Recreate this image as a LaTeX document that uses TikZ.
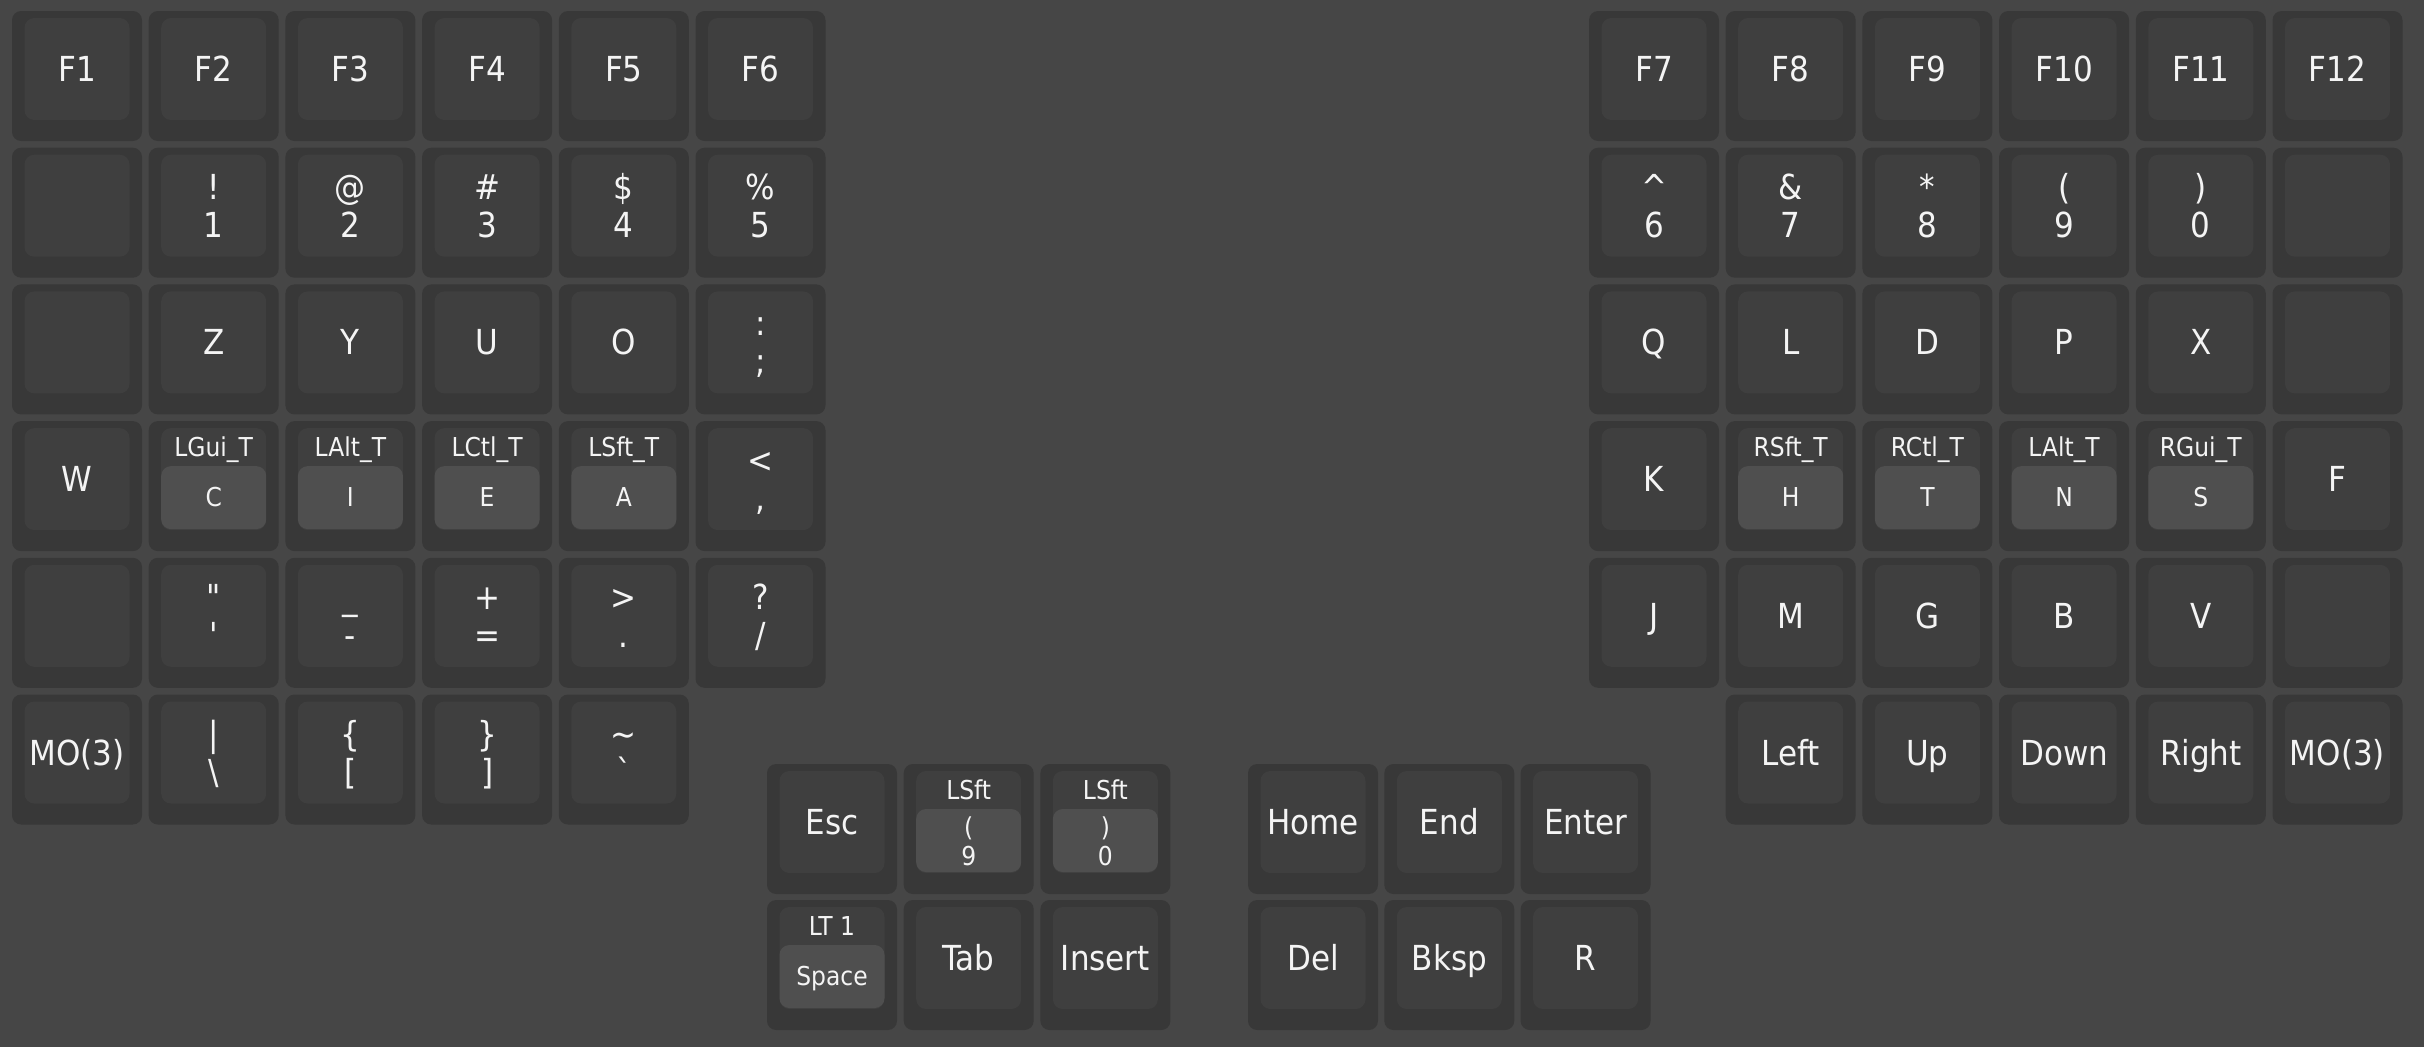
\documentclass[tikz,border=0pt]{standalone}
\usepackage{fontspec}
\setmainfont{DejaVu Sans Condensed}
\definecolor{bgcol}{HTML}{464646}
\definecolor{keyrim}{HTML}{383838}
\definecolor{keytop}{HTML}{3F3F3F}
\definecolor{keyhold}{HTML}{4F4F4F}
\definecolor{keytxt}{HTML}{F4F4F4}
% one key: rim and cap, x y of the top left corner
\newcommand\kbase[2]{\path[keyrimbox] (#1,#2) rectangle ++(130,130);
	\path[keytopbox] (#1+12.5,#2+7) rectangle ++(105,102);}
\newcommand\kone[4]{\kbase{#2}{#3}\node[lbl] (#1) at (#2+65,#3+70.5) {#4};}
\newcommand\ktwo[5]{\kbase{#2}{#3}\node[lbl] (#1a) at (#2+65,#3+51.5) {#4};
	\node[lbl] (#1b) at (#2+65,#3+89.5) {#5};}
\newcommand\khold[5]{\kbase{#2}{#3}\path[holdbox] (#2+12.5,#3+45) rectangle ++(105,63);
	\node[sml] (#1a) at (#2+65,#3+35.5) {#4};
	\node[sml] (#1b) at (#2+65,#3+85.5) {#5};}
\begin{document}
\begin{tikzpicture}[x=0.01cm,y=-0.01cm,
	keyrimbox/.style={fill=keyrim,rounded corners=2.6pt},
	keytopbox/.style={fill=keytop,rounded corners=2.8pt},
	holdbox/.style={fill=keyhold,rounded corners=2.8pt},
	lbl/.style={text=keytxt,inner sep=0,anchor=base,font=\fontsize{9.8}{11}\selectfont},
	sml/.style={lbl,font=\fontsize{7.4}{9}\selectfont}]
\fill[bgcol] (0,0) rectangle (2424,1047);
% left half
\foreach \t [count=\c from 0] in {F1,F2,F3,F4,F5,F6}
	\kone{l0\c}{12+\c*136.7}{11}{\t};
\kbase{12}{147.7}
\foreach \a/\b [count=\c from 1] in {!/1,@/2,\#/3,\$/4,\%/5}
	\ktwo{l1\c}{12+\c*136.7}{147.7}{\a}{\b};
\kbase{12}{284.4}
\foreach \t [count=\c from 1] in {Z,Y,U,O}
	\kone{l2\c}{12+\c*136.7}{284.4}{\t};
\ktwo{l25}{695.5}{284.4}{:}{;}
\kone{l30}{12}{421.1}{W}
\foreach \a/\b [count=\c from 1] in {LGui\_T/C,LAlt\_T/I,LCtl\_T/E,LSft\_T/A}
	\khold{l3\c}{12+\c*136.7}{421.1}{\a}{\b};
\ktwo{l35}{695.5}{421.1}{<}{,}
\kbase{12}{557.8}
\foreach \a/\b [count=\c from 1] in {\textquotedbl/\textquotesingle,\_/-,+/=,>/.,{?}/{/}}
	\ktwo{l4\c}{12+\c*136.7}{557.8}{\a}{\b};
\kone{l50}{12}{694.5}{MO(3)}
\foreach \a/\b [count=\c from 1] in {\textbar/\textbackslash,\{/{[},\}/{]},\textasciitilde/\textasciigrave}
	\ktwo{l5\c}{12+\c*136.7}{694.5}{\a}{\b};
% right half
\foreach \t [count=\c from 0] in {F7,F8,F9,F10,F11,F12}
	\kone{r0\c}{1589+\c*136.7}{11}{\t};
\foreach \a/\b [count=\c from 0] in {\textasciicircum/6,\&/7,*/8,{(}/9,{)}/0}
	\ktwo{r1\c}{1589+\c*136.7}{147.7}{\a}{\b};
\kbase{2272.5}{147.7}
\foreach \t [count=\c from 0] in {Q,L,D,P,X}
	\kone{r2\c}{1589+\c*136.7}{284.4}{\t};
\kbase{2272.5}{284.4}
\kone{r30}{1589}{421.1}{K}
\foreach \a/\b [count=\c from 1] in {RSft\_T/H,RCtl\_T/T,LAlt\_T/N,RGui\_T/S}
	\khold{r3\c}{1589+\c*136.7}{421.1}{\a}{\b};
\kone{r35}{2272.5}{421.1}{F}
\foreach \t [count=\c from 0] in {J,M,G,B,V}
	\kone{r4\c}{1589+\c*136.7}{557.8}{\t};
\kbase{2272.5}{557.8}
\foreach \t [count=\c from 1] in {Left,Up,Down,Right,MO(3)}
	\kone{r5\c}{1589+\c*136.7}{694.5}{\t};
% thumb clusters
\kone{lt0}{767}{764}{Esc}
\foreach \a/\b [count=\c from 1] in {{(}/9,{)}/0}{
	\khold{lt\c}{767+\c*136.7}{764}{LSft}{}
	\node[sml] (lt\c p) at (767+\c*136.7+65,764+72) {\a};
	\node[sml] (lt\c n) at (767+\c*136.7+65,764+101) {\b};
}
\khold{lt3}{767}{900}{LT 1}{Space}
\kone{lt4}{903.7}{900}{Tab}
\kone{lt5}{1040.4}{900}{Insert}
\foreach \t [count=\c from 0] in {Home,End,Enter}
	\kone{rt\c}{1248+\c*136.3}{764}{\t};
\foreach \t [count=\c from 0] in {Del,Bksp,R}
	\kone{rt\c b}{1248+\c*136.3}{900}{\t};
\end{tikzpicture}
\end{document}
